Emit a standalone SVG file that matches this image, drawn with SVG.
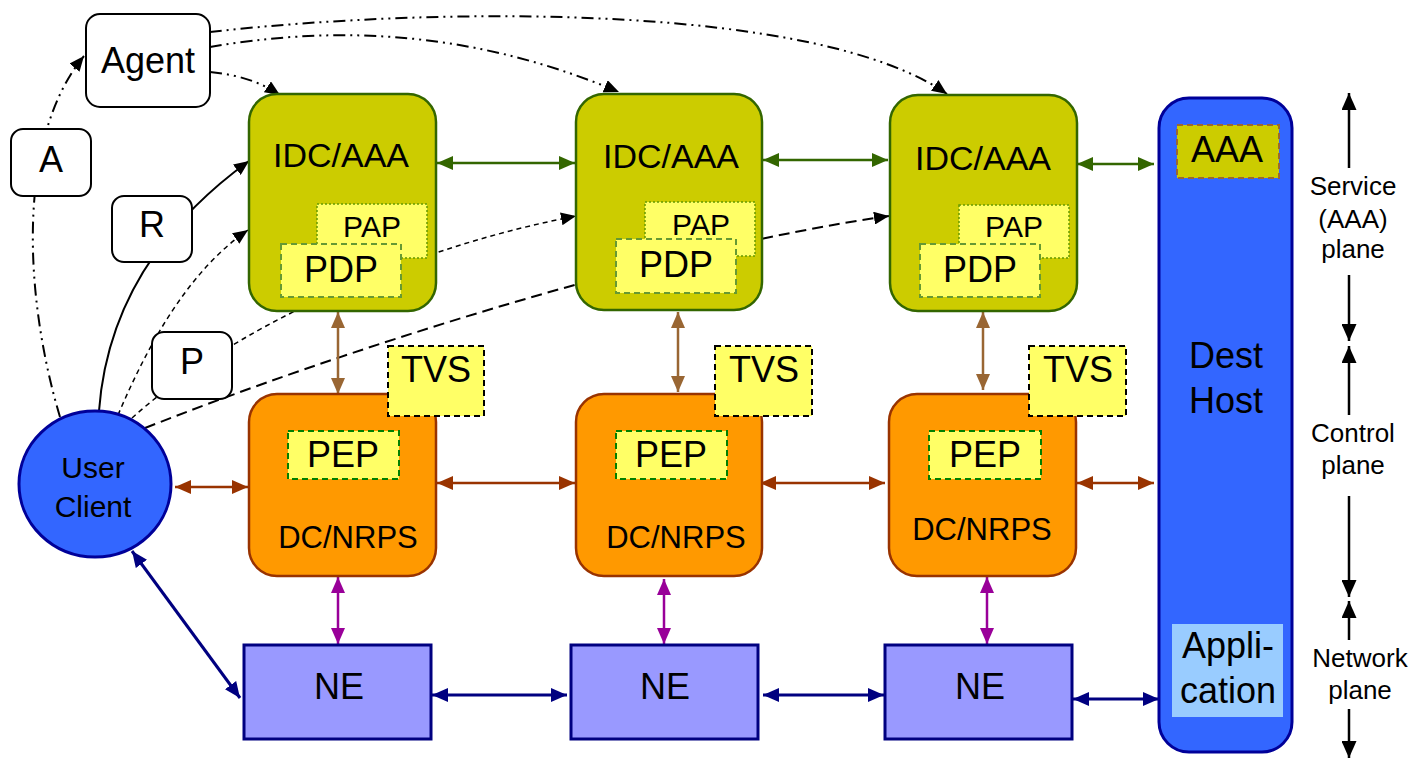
<svg xmlns="http://www.w3.org/2000/svg" width="1422" height="761" viewBox="0 0 1422 761">
<style>
text{font-family:"Liberation Sans",Arial,sans-serif;text-anchor:middle;fill:#000}
.idc{fill:#CCCC00;stroke:#336600;stroke-width:2.5}
.dc{fill:#FF9900;stroke:#993300;stroke-width:2.5}
.pap{fill:#FFFF66;stroke:#669900;stroke-width:1.5;stroke-dasharray:2 2}
.pdp{fill:#FFFF66;stroke:#669933;stroke-width:2;stroke-dasharray:6 4}
.pep{fill:#FFFF66;stroke:#008000;stroke-width:2;stroke-dasharray:6 4}
.tvs{fill:#FFFF66;stroke:#000;stroke-width:2;stroke-dasharray:6 4}
.ne{fill:#9999FF;stroke:#000080;stroke-width:3}
.lbl{fill:#fff;stroke:#000;stroke-width:2}
.blue{fill:#3366FF;stroke:#000099;stroke-width:3}
.c{fill:none}
.g{stroke:#336600;stroke-width:2.5;marker-start:url(#mG);marker-end:url(#mG)}
.bv{stroke:#996633;stroke-width:2.5;marker-start:url(#mBV);marker-end:url(#mBV)}
.bh{stroke:#993300;stroke-width:2.5;marker-start:url(#mBH);marker-end:url(#mBH)}
.pu{stroke:#990099;stroke-width:2.5;marker-start:url(#mP);marker-end:url(#mP)}
.nv{stroke:#000080;stroke-width:3;marker-start:url(#mN);marker-end:url(#mN)}
.pl{stroke:#000;stroke-width:2.5;marker-end:url(#mK)}
.dd{stroke:#000;stroke-width:2;stroke-dasharray:12 5 2 5 2 5;marker-end:url(#mS)}
.sd{stroke:#000;stroke-width:1.5;stroke-dasharray:5 4;marker-end:url(#mS)}
.ld{stroke:#000;stroke-width:2;stroke-dasharray:11 6;marker-end:url(#mS)}
.so{stroke:#000;stroke-width:2;marker-end:url(#mS)}
</style>
<defs>
<marker id="mG" viewBox="0 0 16 14" refX="16" refY="7" markerWidth="16" markerHeight="14" markerUnits="userSpaceOnUse" orient="auto-start-reverse"><path d="M0,0 L16,7 L0,14 z" fill="#336600"/></marker>
<marker id="mBV" viewBox="0 0 16 14" refX="16" refY="7" markerWidth="16" markerHeight="14" markerUnits="userSpaceOnUse" orient="auto-start-reverse"><path d="M0,0 L16,7 L0,14 z" fill="#996633"/></marker>
<marker id="mBH" viewBox="0 0 16 14" refX="16" refY="7" markerWidth="16" markerHeight="14" markerUnits="userSpaceOnUse" orient="auto-start-reverse"><path d="M0,0 L16,7 L0,14 z" fill="#993300"/></marker>
<marker id="mP" viewBox="0 0 16 14" refX="16" refY="7" markerWidth="16" markerHeight="14" markerUnits="userSpaceOnUse" orient="auto-start-reverse"><path d="M0,0 L16,7 L0,14 z" fill="#990099"/></marker>
<marker id="mN" viewBox="0 0 16 14" refX="16" refY="7" markerWidth="16" markerHeight="14" markerUnits="userSpaceOnUse" orient="auto-start-reverse"><path d="M0,0 L16,7 L0,14 z" fill="#000080"/></marker>
<marker id="mK" viewBox="0 0 17 15" refX="17" refY="7.5" markerWidth="17" markerHeight="15" markerUnits="userSpaceOnUse" orient="auto"><path d="M0,0 L17,7.5 L0,15 z" fill="#000"/></marker>
<marker id="mS" viewBox="0 0 15 13" refX="15" refY="6.5" markerWidth="15" markerHeight="13" markerUnits="userSpaceOnUse" orient="auto"><path d="M0,0 L15,6.5 L0,13 z" fill="#000"/></marker>
</defs>

<g id="connectors" class="c">
  <!-- agent flows -->
  <path class="dd" d="M210,32 C450,5 820,5 947,94"/>
  <path class="dd" d="M210,47 C320,28 460,25 619,92"/>
  <path class="dd" d="M210,72 C240,75 260,82 280,95"/>
  <!-- A flow -->
  <path class="dd" d="M60,417 C25,300 15,140 84,56"/>
  <!-- R flow -->
  <path class="so" d="M99,411 C105,330 140,240 249,161"/>
  <!-- P flows -->
  <path class="sd" d="M118,415 C150,340 190,270 248,230"/>
  <path class="sd" d="M132,418 C230,330 400,250 576,216"/>
  <path class="ld" d="M145,428 C330,355 650,250 889,216"/>
  <!-- green IDC links -->
  <line class="g" x1="437" y1="163" x2="575" y2="163"/>
  <line class="g" x1="763" y1="160" x2="888" y2="160"/>
  <line class="g" x1="1077" y1="164" x2="1154" y2="164"/>
  <!-- brown vertical IDC-DC -->
  <line class="bv" x1="338" y1="312" x2="338" y2="394"/>
  <line class="bv" x1="678" y1="312" x2="678" y2="392"/>
  <line class="bv" x1="983" y1="312" x2="983" y2="390"/>
  <!-- brown horizontal DC links -->
  <line class="bh" x1="175" y1="487" x2="248" y2="487"/>
  <line class="bh" x1="437" y1="483" x2="575" y2="483"/>
  <line class="bh" x1="760" y1="483" x2="885" y2="483"/>
  <line class="bh" x1="1077" y1="483" x2="1154" y2="483"/>
  <!-- purple DC-NE -->
  <line class="pu" x1="338" y1="577" x2="338" y2="644"/>
  <line class="pu" x1="664" y1="579" x2="664" y2="644"/>
  <line class="pu" x1="987" y1="577" x2="987" y2="644"/>
  <!-- navy NE links -->
  <line class="nv" x1="132" y1="551" x2="240" y2="698"/>
  <line class="nv" x1="432" y1="695" x2="567" y2="695"/>
  <line class="nv" x1="763" y1="695" x2="884" y2="695"/>
  <line class="nv" x1="1073" y1="699" x2="1159" y2="699"/>
  <!-- plane arrows -->
  <line class="pl" x1="1349" y1="168" x2="1349" y2="93"/>
  <line class="pl" x1="1349" y1="275" x2="1349" y2="341"/>
  <line class="pl" x1="1349" y1="415" x2="1349" y2="346"/>
  <line class="pl" x1="1349" y1="496" x2="1349" y2="597"/>
  <line class="pl" x1="1349" y1="640" x2="1349" y2="601"/>
  <line class="pl" x1="1349" y1="709" x2="1349" y2="758"/>
</g>

<g id="agent"><rect class="lbl" x="86" y="14" width="124" height="93" rx="14"/><text x="148" y="73" font-size="36">Agent</text></g>
<g id="label-a"><rect class="lbl" x="11" y="129" width="80" height="67" rx="12"/><text x="51" y="172" font-size="36">A</text></g>
<g id="label-r"><rect class="lbl" x="112" y="196" width="80" height="66" rx="12"/><text x="152" y="237" font-size="36">R</text></g>
<g id="label-p"><rect class="lbl" x="152" y="332" width="80" height="67" rx="12"/><text x="192" y="374" font-size="36">P</text></g>

<g id="user-client"><ellipse class="blue" cx="95" cy="484" rx="76" ry="73"/><text x="93" y="478" font-size="30">User</text><text x="93" y="517" font-size="30">Client</text></g>

<g id="idc1">
  <rect class="idc" x="249" y="94" width="187" height="217" rx="28"/>
  <text x="341" y="167" font-size="34">IDC/AAA</text>
  <rect class="pap" x="317" y="204" width="110" height="54"/>
  <text x="372" y="237" font-size="30">PAP</text>
  <rect class="pdp" x="281" y="244" width="120" height="53"/>
  <text x="341" y="282" font-size="36">PDP</text>
</g>
<g id="idc2">
  <rect class="idc" x="576" y="94" width="186" height="216" rx="28"/>
  <text x="671" y="168" font-size="34">IDC/AAA</text>
  <rect class="pap" x="645" y="202" width="110" height="54"/>
  <text x="701" y="235" font-size="30">PAP</text>
  <rect class="pdp" x="616" y="239" width="120" height="54"/>
  <text x="676" y="277" font-size="36">PDP</text>
</g>
<g id="idc3">
  <rect class="idc" x="890" y="95" width="187" height="216" rx="28"/>
  <text x="983" y="170" font-size="34">IDC/AAA</text>
  <rect class="pap" x="959" y="205" width="110" height="53"/>
  <text x="1014" y="237" font-size="30">PAP</text>
  <rect class="pdp" x="920" y="244" width="120" height="53"/>
  <text x="980" y="282" font-size="36">PDP</text>
</g>

<g id="dc1">
  <rect class="dc" x="249" y="394" width="187" height="182" rx="28"/>
  <rect class="pep" x="288" y="431" width="111" height="48"/>
  <text x="343" y="467" font-size="36">PEP</text>
  <text x="348" y="548" font-size="31">DC/NRPS</text>
</g>
<g id="tvs1"><rect class="tvs" x="388" y="346" width="96" height="70"/><text x="436" y="382" font-size="36">TVS</text></g>
<g id="dc2">
  <rect class="dc" x="576" y="394" width="186" height="182" rx="28"/>
  <rect class="pep" x="616" y="431" width="111" height="48"/>
  <text x="671" y="467" font-size="36">PEP</text>
  <text x="676" y="548" font-size="31">DC/NRPS</text>
</g>
<g id="tvs2"><rect class="tvs" x="715" y="346" width="97" height="70"/><text x="764" y="382" font-size="36">TVS</text></g>
<g id="dc3">
  <rect class="dc" x="889" y="394" width="187" height="182" rx="28"/>
  <rect class="pep" x="929" y="431" width="112" height="48"/>
  <text x="985" y="467" font-size="36">PEP</text>
  <text x="982" y="540" font-size="31">DC/NRPS</text>
</g>
<g id="tvs3"><rect class="tvs" x="1029" y="346" width="97" height="70"/><text x="1078" y="382" font-size="36">TVS</text></g>

<g id="ne1"><rect class="ne" x="244" y="645" width="187" height="94"/><text x="339" y="699" font-size="36">NE</text></g>
<g id="ne2"><rect class="ne" x="571" y="645" width="187" height="94"/><text x="665" y="699" font-size="36">NE</text></g>
<g id="ne3"><rect class="ne" x="885" y="645" width="187" height="94"/><text x="980" y="699" font-size="36">NE</text></g>

<g id="dest-host">
  <rect class="blue" x="1159" y="98" width="133" height="654" rx="30"/>
  <rect x="1177" y="125" width="102" height="53" fill="#CCCC00" stroke="#996633" stroke-width="2" stroke-dasharray="6 4"/>
  <text x="1227" y="162" font-size="36">AAA</text>
  <text x="1226" y="368" font-size="36">Dest</text>
  <text x="1226" y="413" font-size="36">Host</text>
  <rect x="1172" y="624" width="111" height="93" fill="#99CCFF"/>
  <text x="1228" y="658" font-size="36">Appli-</text>
  <text x="1228" y="703" font-size="36">cation</text>
</g>

<g id="plane-labels">
  <text x="1353" y="195" font-size="26">Service</text>
  <text x="1353" y="228" font-size="26">(AAA)</text>
  <text x="1353" y="258" font-size="26">plane</text>
  <text x="1353" y="442" font-size="26">Control</text>
  <text x="1353" y="474" font-size="26">plane</text>
  <text x="1360" y="667" font-size="26">Network</text>
  <text x="1360" y="699" font-size="26">plane</text>
</g>
</svg>
